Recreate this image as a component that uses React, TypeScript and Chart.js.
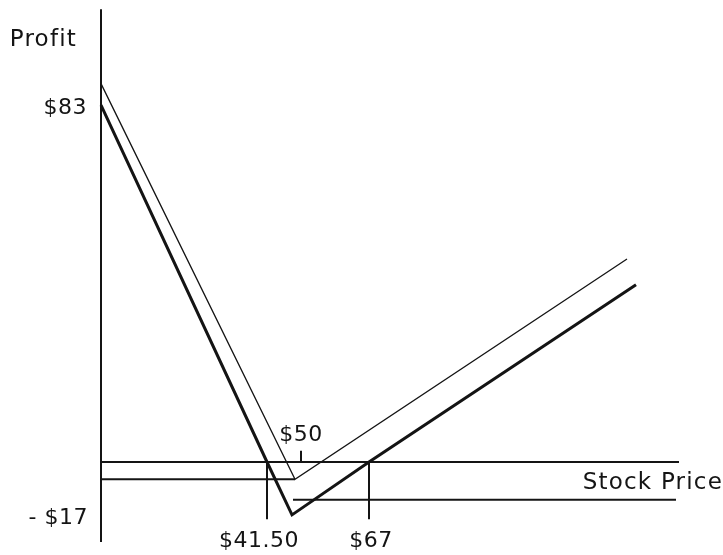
import React, { useEffect, useRef } from "react";
import { Chart, registerables } from "chart.js";

Chart.register(...registerables);

// ---- data (stock price in $, profit in $) ----
const thickPrice = [0, 41.5, 47.75, 67, 133.75];
const thickProfit = [83, 0, -12.3, 0, 41.2];

const thinPrice = [0, 48.5, 131.5];
const thinProfit = [88, -4, 47.2];

const zeroLinePrice = [0, 144.5];
const zeroLineProfit = [0, 0];

const thinLevelPrice = [0, 48.5];
const thinLevelProfit = [-4, -4];

const lowerLevelPrice = [48, 143.75];
const lowerLevelProfit = [-8.8, -8.8];

const profitAxisPrice = [0, 0];
const profitAxisProfit = [105.3, -18.6];

const breakevenPrices = [41.5, 67];
const breakevenDepth = -13.3;

const strikePrice = 50;
const strikeTickHeight = 2.6;

const xTickValues = [41.5, 50, 67];
const xTickLabels = ["$41.50", "$50", "$67"];
const yTickLabels = ["$83", "- $17"];
const xAxisTitle = "Stock Price";
const yAxisTitle = "Profit";

const X_MIN = 0;
const X_MAX = 155;
const Y_MIN = -21;
const Y_MAX = 106;

const INK = "#141414";
const NUM_FONT = '22px "DejaVu Sans", sans-serif';
const WORD_FONT = '23px "DejaVu Sans", sans-serif';

const pts = (xs: number[], ys: number[]) => xs.map((x, i) => ({ x, y: ys[i] }));

const seg = (data: { x: number; y: number }[], width: number) => ({
  data,
  showLine: true,
  borderColor: INK,
  backgroundColor: INK,
  borderWidth: width,
  pointRadius: 0,
  pointHoverRadius: 0,
  tension: 0,
  fill: false,
  clip: false as any,
  borderJoinStyle: "miter" as const,
  borderCapStyle: "butt" as const,
});

const labelPlugin = {
  id: "payoffLabels",
  afterDatasetsDraw(chart: any) {
    const { ctx, scales, chartArea } = chart;
    const x = scales.x;
    const y = scales.y;
    const axisX = x.getPixelForValue(0);
    const zeroY = y.getPixelForValue(0);
    ctx.save();
    ctx.fillStyle = INK;
    ctx.textBaseline = "middle";

    // titles (wide, lightly spaced lettering)
    ctx.font = WORD_FONT;
    (ctx as any).letterSpacing = "1.2px";
    ctx.textAlign = "right";
    ctx.fillText(yAxisTitle, axisX - 24, y.getPixelForValue(Y_MAX) + 34);
    ctx.fillText(xAxisTitle, chartArea.right + 2, zeroY + 21);

    // value labels
    ctx.font = NUM_FONT;
    (ctx as any).letterSpacing = "0.5px";
    ctx.textAlign = "right";
    ctx.fillText(yTickLabels[0], axisX - 14, y.getPixelForValue(thickProfit[0]) + 3);
    const minProfit = Math.min(...thickProfit);
    ctx.fillText(yTickLabels[1], axisX - 13, y.getPixelForValue(minProfit) + 3);

    ctx.textAlign = "center";
    ctx.fillText(xTickLabels[0], x.getPixelForValue(xTickValues[0]) - 8, zeroY + 79);
    ctx.fillText(xTickLabels[1], x.getPixelForValue(xTickValues[1]), zeroY - 27);
    ctx.fillText(xTickLabels[2], x.getPixelForValue(xTickValues[2]) + 2, zeroY + 79);
    ctx.restore();
  },
};

export default function App() {
  const ref = useRef<HTMLCanvasElement | null>(null);

  useEffect(() => {
    if (!ref.current) return;
    const datasets: any[] = [
      seg(pts(profitAxisPrice, profitAxisProfit), 2),
      seg(pts(zeroLinePrice, zeroLineProfit), 2),
      seg(pts(thinLevelPrice, thinLevelProfit), 2),
      seg(pts(lowerLevelPrice, lowerLevelProfit), 2),
      ...breakevenPrices.map((p) => seg(pts([p, p], [0, breakevenDepth]), 2)),
      seg(pts([strikePrice, strikePrice], [0, strikeTickHeight]), 2),
      seg(pts(thinPrice, thinProfit), 1.3),
      seg(pts(thickPrice, thickProfit), 3),
    ];
    const chart = new Chart(ref.current, {
      type: "scatter",
      data: { datasets },
      plugins: [labelPlugin],
      options: {
        animation: false,
        responsive: false,
        devicePixelRatio: 1,
        layout: { padding: { left: 101, right: 2, top: 6.2, bottom: 2.7 } },
        plugins: { legend: { display: false }, tooltip: { enabled: false } },
        events: [],
        scales: {
          x: { type: "linear", min: X_MIN, max: X_MAX, display: false },
          y: { type: "linear", min: Y_MIN, max: Y_MAX, display: false },
        },
      },
    });
    return () => chart.destroy();
  }, []);

  return (
    <div style={{ position: "absolute", left: 0, top: 0, width: 723, height: 555, background: "#fff" }}>
      <canvas ref={ref} width={723} height={555} style={{ width: 723, height: 555, display: "block" }} />
    </div>
  );
}
